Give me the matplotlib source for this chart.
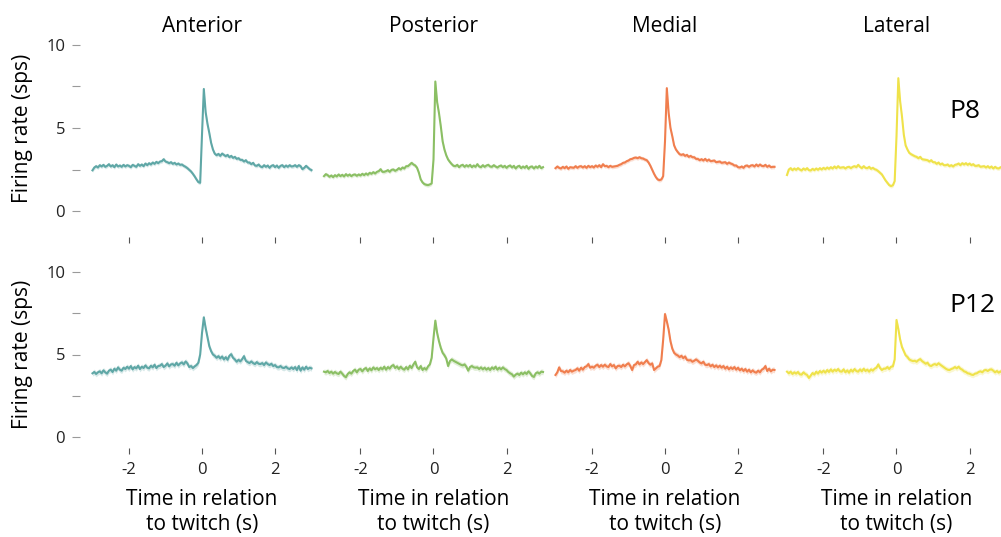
import numpy as np
import matplotlib
matplotlib.use("Agg")
import matplotlib.pyplot as plt

plt.rcParams['font.family'] = ['Open Sans', 'DejaVu Sans']
plt.rcParams['axes.unicode_minus'] = False

# Peri-event time axis (s), 50 ms bins from -3 s to +3 s
time = np.round(np.arange(-3.0, 3.0001, 0.05), 2)

regions = ["Anterior", "Posterior", "Medial", "Lateral"]
ages = ["P8", "P12"]
colors = ["#5FA7A6", "#8BBF64", "#F07E4E", "#EFE24A"]
sem = [0.12, 0.17]

# ---- P8 firing rates (sps) ----
anterior_p8 = [
    2.45, 2.62, 2.70, 2.62, 2.76, 2.68, 2.78, 2.66, 2.72, 2.82,
    2.68, 2.76, 2.64, 2.80, 2.68, 2.74, 2.66, 2.78, 2.68, 2.76,
    2.72, 2.64, 2.78, 2.72, 2.66, 2.82, 2.72, 2.80, 2.70, 2.86,
    2.76, 2.88, 2.80, 2.92, 2.84, 2.96, 2.88, 2.98, 3.00, 3.12,
    2.98, 2.94, 2.88, 2.94, 2.84, 2.90, 2.80, 2.86, 2.78, 2.80,
    2.72, 2.66, 2.58, 2.48, 2.38, 2.24, 2.08, 1.90, 1.74, 1.70,
    4.60, 7.35, 5.95, 5.25, 4.70, 4.10, 3.70, 3.45, 3.36, 3.44,
    3.32, 3.46, 3.38, 3.30, 3.38, 3.24, 3.32, 3.20, 3.26, 3.14,
    3.18, 3.08, 3.08, 2.98, 3.06, 2.92, 2.92, 2.82, 2.90, 2.74,
    2.72, 2.80, 2.68, 2.64, 2.76, 2.66, 2.74, 2.60, 2.72, 2.76,
    2.64, 2.74, 2.60, 2.72, 2.76, 2.64, 2.74, 2.66, 2.76, 2.68,
    2.70, 2.76, 2.66, 2.76, 2.70, 2.52, 2.60, 2.72, 2.62, 2.52,
    2.46,
]
posterior_p8 = [
    2.10, 2.22, 2.16, 2.06, 2.14, 2.04, 2.16, 2.08, 2.20, 2.10,
    2.18, 2.08, 2.22, 2.12, 2.20, 2.10, 2.18, 2.20, 2.12, 2.20,
    2.14, 2.24, 2.16, 2.26, 2.18, 2.30, 2.24, 2.34, 2.26, 2.36,
    2.40, 2.52, 2.36, 2.36, 2.40, 2.46, 2.36, 2.48, 2.50, 2.42,
    2.48, 2.58, 2.50, 2.62, 2.56, 2.70, 2.70, 2.80, 2.90, 2.80,
    2.74, 2.60, 2.30, 1.90, 1.72, 1.62, 1.58, 1.56, 1.60, 1.66,
    3.10, 7.80, 6.55, 5.90, 5.10, 4.20, 3.70, 3.35, 3.10, 2.95,
    2.82, 2.72, 2.70, 2.78, 2.64, 2.74, 2.78, 2.66, 2.76, 2.68,
    2.78, 2.64, 2.74, 2.66, 2.82, 2.68, 2.64, 2.76, 2.66, 2.74,
    2.78, 2.68, 2.66, 2.76, 2.68, 2.62, 2.70, 2.74, 2.64, 2.72,
    2.60, 2.70, 2.74, 2.62, 2.72, 2.56, 2.68, 2.72, 2.58, 2.68,
    2.60, 2.72, 2.54, 2.66, 2.68, 2.56, 2.68, 2.60, 2.72, 2.58,
    2.64,
]
medial_p8 = [
    2.58, 2.68, 2.60, 2.56, 2.66, 2.58, 2.68, 2.54, 2.64, 2.62,
    2.60, 2.70, 2.60, 2.68, 2.70, 2.62, 2.70, 2.60, 2.72, 2.64,
    2.70, 2.62, 2.74, 2.66, 2.76, 2.64, 2.82, 2.70, 2.72, 2.64,
    2.72, 2.66, 2.68, 2.70, 2.72, 2.78, 2.82, 2.90, 2.92, 3.00,
    3.04, 3.12, 3.14, 3.20, 3.22, 3.18, 3.24, 3.18, 3.16, 3.10,
    3.06, 2.92, 2.72, 2.48, 2.24, 2.04, 1.90, 1.86, 1.90, 2.10,
    4.20, 7.40, 5.90, 5.00, 4.50, 3.95, 3.70, 3.55, 3.42, 3.38,
    3.42, 3.32, 3.38, 3.26, 3.32, 3.24, 3.24, 3.14, 3.14, 3.06,
    3.12, 3.04, 3.14, 3.02, 3.10, 3.00, 3.02, 3.04, 2.94, 2.96,
    2.98, 2.90, 2.92, 2.94, 2.84, 2.92, 2.86, 2.82, 2.74, 2.74,
    2.64, 2.62, 2.68, 2.60, 2.72, 2.74, 2.66, 2.74, 2.76, 2.68,
    2.80, 2.70, 2.80, 2.72, 2.70, 2.78, 2.66, 2.74, 2.64, 2.66,
    2.66,
]
lateral_p8 = [
    2.17, 2.50, 2.58, 2.46, 2.56, 2.48, 2.58, 2.50, 2.44, 2.56,
    2.48, 2.58, 2.46, 2.44, 2.54, 2.46, 2.56, 2.48, 2.58, 2.50,
    2.60, 2.52, 2.62, 2.54, 2.64, 2.56, 2.68, 2.58, 2.70, 2.60,
    2.62, 2.64, 2.56, 2.64, 2.66, 2.58, 2.66, 2.70, 2.64, 2.78,
    2.66, 2.58, 2.70, 2.60, 2.58, 2.66, 2.54, 2.60, 2.52, 2.48,
    2.40, 2.30, 2.20, 2.02, 1.84, 1.70, 1.56, 1.50, 1.55, 1.80,
    4.50, 8.00, 6.60, 5.70, 4.60, 3.95, 3.70, 3.50, 3.42, 3.36,
    3.30, 3.26, 3.18, 3.26, 3.12, 3.10, 3.08, 3.06, 2.98, 3.06,
    2.94, 2.94, 2.84, 2.92, 2.80, 2.86, 2.76, 2.76, 2.80, 2.70,
    2.76, 2.68, 2.78, 2.80, 2.86, 2.76, 2.88, 2.80, 2.88, 2.78,
    2.86, 2.76, 2.82, 2.72, 2.72, 2.76, 2.66, 2.68, 2.70, 2.62,
    2.70, 2.60, 2.68, 2.56, 2.66, 2.58, 2.56, 2.64, 2.56, 2.66,
    2.60,
]

# ---- P12 firing rates (sps) ----
anterior_p12 = [
    3.86, 3.94, 3.82, 3.92, 3.98, 3.86, 4.04, 3.92, 3.84, 4.02,
    4.08, 3.94, 4.14, 4.02, 4.22, 4.08, 4.02, 4.20, 4.12, 4.26,
    4.14, 4.30, 4.10, 4.24, 4.16, 4.32, 4.12, 4.26, 4.18, 4.34,
    4.20, 4.16, 4.32, 4.22, 4.38, 4.18, 4.30, 4.32, 4.42, 4.24,
    4.32, 4.46, 4.28, 4.40, 4.42, 4.32, 4.50, 4.34, 4.46, 4.52,
    4.40, 4.58, 4.46, 4.24, 4.30, 4.18, 4.28, 4.36, 4.50, 5.00,
    6.30, 7.25, 6.60, 6.05, 5.50, 5.20, 5.00, 4.92, 4.80, 4.90,
    4.76, 4.88, 4.70, 4.84, 4.68, 4.92, 5.02, 4.80, 4.70, 4.56,
    4.68, 4.58, 4.72, 4.90, 4.62, 4.54, 4.48, 4.58, 4.48, 4.42,
    4.54, 4.44, 4.42, 4.48, 4.36, 4.52, 4.42, 4.36, 4.44, 4.30,
    4.36, 4.24, 4.22, 4.30, 4.20, 4.18, 4.26, 4.16, 4.12, 4.22,
    4.12, 4.24, 4.06, 4.30, 4.02, 4.22, 4.08, 4.26, 4.12, 4.20,
    4.16,
]
posterior_p12 = [
    3.96, 3.92, 4.00, 3.88, 3.96, 3.84, 3.94, 3.86, 3.82, 3.96,
    3.84, 3.70, 3.62, 3.82, 3.92, 3.84, 4.00, 4.08, 3.92, 4.08,
    4.12, 3.98, 4.12, 4.18, 4.00, 4.16, 4.04, 4.22, 4.10, 4.18,
    4.06, 4.20, 4.10, 4.26, 4.08, 4.24, 4.14, 4.30, 4.36, 4.18,
    4.28, 4.12, 4.26, 4.14, 4.08, 4.24, 4.10, 4.32, 4.18, 4.40,
    4.56, 4.22, 4.12, 4.30, 4.06, 4.18, 4.08, 4.28, 4.40, 4.80,
    6.00, 7.05, 6.30, 5.80, 5.40, 5.10, 4.95, 4.75, 4.30, 4.60,
    4.70, 4.62, 4.56, 4.50, 4.44, 4.38, 4.34, 4.40, 4.26, 4.02,
    4.24, 4.30, 4.22, 4.20, 4.22, 4.12, 4.22, 4.10, 4.20, 4.08,
    4.18, 4.06, 4.22, 4.12, 4.26, 4.08, 4.20, 4.10, 4.22, 4.12,
    4.06, 3.94, 3.86, 3.80, 3.66, 3.78, 3.84, 3.76, 3.90, 3.80,
    3.92, 3.82, 3.98, 3.86, 3.70, 3.64, 3.86, 3.92, 3.84, 3.96,
    3.94,
]
medial_p12 = [
    3.76, 3.92, 4.22, 4.00, 3.98, 3.90, 4.02, 3.92, 4.06, 3.96,
    4.02, 4.06, 4.16, 4.02, 4.20, 4.08, 4.24, 4.28, 4.42, 4.20,
    4.26, 4.20, 4.32, 4.38, 4.24, 4.36, 4.26, 4.38, 4.28, 4.24,
    4.42, 4.28, 4.36, 4.16, 4.30, 4.32, 4.24, 4.38, 4.28, 4.40,
    4.47, 4.30, 4.06, 4.36, 4.40, 4.56, 4.40, 4.52, 4.42, 4.54,
    4.66, 4.48, 4.38, 4.46, 4.06, 4.16, 4.26, 4.30, 4.66, 5.90,
    7.45, 7.00, 6.50, 5.80, 5.35, 5.10, 5.00, 4.94, 4.84, 4.92,
    4.78, 4.88, 4.68, 4.64, 4.66, 4.56, 4.62, 4.70, 4.62, 4.52,
    4.46, 4.56, 4.38, 4.36, 4.42, 4.28, 4.38, 4.24, 4.34, 4.22,
    4.32, 4.20, 4.30, 4.14, 4.26, 4.10, 4.22, 4.12, 4.24, 4.08,
    4.20, 4.04, 4.14, 4.00, 4.12, 3.96, 4.08, 3.92, 4.04, 3.94,
    3.90, 4.02, 3.92, 4.08, 4.14, 4.30, 4.00, 4.14, 3.98, 4.08,
    4.06,
]
lateral_p12 = [
    3.96, 3.86, 3.96, 3.82, 3.92, 3.84, 3.94, 3.80, 3.78, 3.92,
    3.82, 3.76, 3.58, 3.72, 3.88, 3.78, 3.96, 3.84, 4.00, 3.90,
    4.02, 3.90, 4.06, 3.94, 4.10, 3.96, 4.08, 4.00, 4.12, 3.98,
    3.96, 4.10, 3.92, 4.04, 3.90, 4.08, 3.96, 4.12, 4.00, 3.96,
    4.10, 3.98, 4.14, 4.00, 4.08, 3.96, 4.10, 4.02, 4.14, 4.20,
    4.40, 4.18, 4.06, 4.14, 4.14, 4.24, 4.12, 4.26, 4.28, 4.70,
    7.09, 6.55, 5.90, 5.45, 5.20, 4.95, 4.85, 4.70, 4.64, 4.60,
    4.62, 4.56, 4.66, 4.72, 4.60, 4.52, 4.44, 4.50, 4.34, 4.30,
    4.38, 4.42, 4.36, 4.47, 4.38, 4.30, 4.22, 4.14, 4.08, 4.06,
    4.12, 4.16, 4.24, 4.16, 4.26, 4.14, 4.08, 3.98, 3.94, 3.86,
    3.84, 3.78, 3.76, 3.84, 3.86, 3.94, 3.98, 3.92, 4.04, 4.06,
    4.00, 4.08, 4.10, 4.02, 3.92, 4.00, 3.90, 3.98, 3.88, 3.96,
    3.96,
]

rates = [
    [anterior_p8, posterior_p8, medial_p8, lateral_p8],
    [anterior_p12, posterior_p12, medial_p12, lateral_p12],
]

yticks = [0, 2.5, 5, 7.5, 10]
ytick_labels = ["0", "", "5", "", "10"]
xticks = [-2, 0, 2]

W, H = 1001, 537
fig = plt.figure(figsize=(W / 100, H / 100), dpi=100)

col_left = [87, 318.5, 550, 781.5]
col_width = 230
row_bottom = [216, 442]
row_height = [176, 175]
xtick_offset = [15.0, 4.3]  # points below the plotting area

for r in range(2):
    for c in range(4):
        ax = fig.add_axes([col_left[c] / W, 1 - row_bottom[r] / H,
                           col_width / W, row_height[r] / H])
        y = np.array(rates[r][c])
        ax.fill_between(time, y - sem[r], y + sem[r], color=colors[c],
                        alpha=0.25, lw=0)
        ax.plot(time, y, color=colors[c], lw=1.5)
        ax.set_xlim(-3.15, 3.15)
        ax.set_ylim(-0.3, 10.3)
        for sp in ax.spines.values():
            sp.set_visible(False)

        ax.spines['bottom'].set_position(('outward', xtick_offset[r]))
        ax.set_xticks(xticks)
        ax.tick_params(axis='x', direction='out', length=4.3, width=0.8,
                       color='#555555', labelsize=12, labelcolor='#222222',
                       pad=6, labelbottom=(r == 1))

        if c == 0:
            ax.spines['left'].set_position(('outward', 5))
            ax.set_yticks(yticks)
            ax.set_yticklabels(ytick_labels)
            ax.tick_params(axis='y', direction='out', length=5.8, width=0.8,
                           color='#9a9a9a', labelsize=12,
                           labelcolor='#222222', pad=5)
            ax.set_ylabel("Firing rate (sps)", fontsize=15)
            ax.yaxis.set_label_coords(-0.235, 0.5)
        else:
            ax.set_yticks([])

        if r == 0:
            ax.text(0.5, 1 + 14 / row_height[r], regions[c], ha='center',
                    va='center', fontsize=15, transform=ax.transAxes)
        else:
            ax.text(0.5, -70 / row_height[r], "Time in relation\nto twitch (s)",
                    ha='center', va='center', fontsize=15, linespacing=1.25,
                    transform=ax.transAxes)

        if c == 3:
            ax.text(1.46, 6.0 if r == 0 else 7.95, ages[r], ha='left',
                    va='center', fontsize=19)

fig.savefig("out.png", dpi=100)
